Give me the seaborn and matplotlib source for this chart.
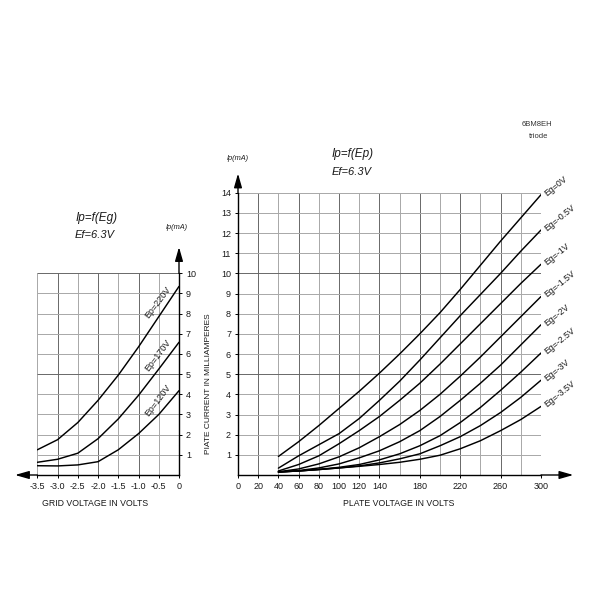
import matplotlib
matplotlib.use("Agg")
import matplotlib.pyplot as plt
import seaborn as sns
import pandas as pd

# ---------------- data: left chart  Ip = f(Eg) ----------------
eg_points = [-3.5, -3.0, -2.5, -2.0, -1.5, -1.0, -0.5, 0.0]
ip_ep220 = [1.25, 1.75, 2.6, 3.7, 4.95, 6.35, 7.85, 9.35]
ip_ep170 = [0.63, 0.78, 1.08, 1.8, 2.78, 3.95, 5.25, 6.58]
ip_ep120 = [0.46, 0.45, 0.5, 0.66, 1.25, 2.05, 3.0, 4.18]
ep_curve_labels = ["Ep=220V", "Ep=170V", "Ep=120V"]
left_xticks = [-3.5, -3.0, -2.5, -2.0, -1.5, -1.0, -0.5, 0.0]
left_xticklabels = ["-3.5", "-3.0", "-2.5", "-2.0", "-1.5", "-1.0", "-0.5", "0"]
left_yticks = [1, 2, 3, 4, 5, 6, 7, 8, 9, 10]

# ---------------- data: right chart  Ip = f(Ep) ----------------
ep_points = [40, 60, 80, 100, 120, 140, 160, 180, 200, 220, 240, 260, 280, 300]
ip_eg0 = [0.92, 1.65, 2.45, 3.3, 4.15, 5.05, 6.0, 7.0, 8.05, 9.2, 10.4, 11.6, 12.75, 13.9]
ip_eg05 = [0.34, 0.95, 1.5, 2.05, 2.8, 3.7, 4.65, 5.7, 6.8, 7.9, 8.95, 10.0, 11.1, 12.15]
ip_eg10 = [0.2, 0.52, 0.95, 1.55, 2.2, 2.9, 3.7, 4.55, 5.5, 6.5, 7.5, 8.5, 9.5, 10.45]
ip_eg15 = [0.16, 0.3, 0.55, 0.9, 1.35, 1.9, 2.5, 3.2, 4.0, 4.9, 5.85, 6.85, 7.85, 8.85]
ip_eg20 = [0.15, 0.22, 0.35, 0.55, 0.85, 1.2, 1.65, 2.2, 2.9, 3.7, 4.55, 5.45, 6.45, 7.45]
ip_eg25 = [0.15, 0.2, 0.28, 0.38, 0.52, 0.75, 1.05, 1.45, 1.95, 2.6, 3.35, 4.2, 5.1, 6.05]
ip_eg30 = [0.15, 0.2, 0.27, 0.35, 0.45, 0.6, 0.8, 1.05, 1.45, 1.9, 2.45, 3.1, 3.85, 4.7]
ip_eg35 = [0.15, 0.2, 0.27, 0.35, 0.43, 0.52, 0.63, 0.78, 0.98, 1.3, 1.7, 2.2, 2.75, 3.4]
eg_curve_labels = ["Eg=0V", "Eg=-0.5V", "Eg=-1V", "Eg=-1.5V",
                   "Eg=-2V", "Eg=-2.5V", "Eg=-3V", "Eg=-3.5V"]
right_xticks = [0, 20, 40, 60, 80, 100, 120, 140, 180, 220, 260, 300]
right_yticks = [1, 2, 3, 4, 5, 6, 7, 8, 9, 10, 11, 12, 13, 14]

# ---------------- tables ----------------
left_series = [ip_ep220, ip_ep170, ip_ep120]
df_left = pd.concat([pd.DataFrame({"Eg": eg_points, "Ip": s, "curve": lab})
                     for s, lab in zip(left_series, ep_curve_labels)], ignore_index=True)
right_series = [ip_eg0, ip_eg05, ip_eg10, ip_eg15, ip_eg20, ip_eg25, ip_eg30, ip_eg35]
df_right = pd.concat([pd.DataFrame({"Ep": ep_points, "Ip": s, "curve": lab})
                      for s, lab in zip(right_series, eg_curve_labels)], ignore_index=True)

sns.set_theme(style="white")
plt.rcParams["font.family"] = ["Liberation Sans", "DejaVu Sans"]

W = H = 600.0
fig = plt.figure(figsize=(6, 6), dpi=100)
fig.patch.set_facecolor("white")

def fx(px):
    return px / W

def fy(py):
    return 1 - py / H

LIGHT = "#a8a8a8"
DARK = "#686868"
TXT = "#1a1a1a"
ARROW = dict(arrowstyle="-|>,head_length=0.7,head_width=0.2", color="black", lw=1.0,
             shrinkA=0, shrinkB=0)

# ================= right chart =================
axr = fig.add_axes([fx(238), fy(475), (541 - 238) / W, (475 - 192.7) / H])
axr.set_xlim(0, 300)
axr.set_ylim(0, 14)
for v in range(20, 301, 20):
    axr.vlines(v, 0, 14, color=DARK if v % 40 == 20 else LIGHT, lw=0.7, zorder=1)
for h in range(1, 15):
    axr.hlines(h, 0, 300, color=DARK if h in (5, 10) else LIGHT, lw=0.7, zorder=1)
sns.lineplot(data=df_right, x="Ep", y="Ip", hue="curve",
             palette=["black"] * len(eg_curve_labels), estimator=None, sort=False,
             legend=False, lw=1.05, ax=axr, zorder=3)
for s, lab in zip(right_series, eg_curve_labels):
    axr.annotate(lab, xy=(ep_points[-1], s[-1]), xytext=(3.0, 0.5), textcoords="offset points",
                 rotation=39, rotation_mode="anchor", ha="left", va="center",
                 fontsize=6.3, color=TXT, annotation_clip=False)
axr.set_xticks(right_xticks)
axr.set_xticklabels([str(t) for t in right_xticks])
axr.set_yticks(right_yticks)
axr.set_yticklabels([str(t) for t in right_yticks])
axr.tick_params(axis="both", labelsize=6.5, length=2, width=0.7, colors="black",
                labelcolor=TXT, pad=3, direction="out")
axr.tick_params(axis="x", bottom=True)
axr.tick_params(axis="y", left=True)
axr.set_xlabel("")
axr.set_ylabel("")
for sp in ["top", "right"]:
    axr.spines[sp].set_visible(False)
for sp in ["left", "bottom"]:
    axr.spines[sp].set_color("black")
    axr.spines[sp].set_linewidth(1.0)
axr.patch.set_alpha(0)
axr.annotate("", xy=(332, 0), xytext=(300, 0), annotation_clip=False, arrowprops=ARROW)
axr.annotate("", xy=(0, 14.95), xytext=(0, 14), annotation_clip=False, arrowprops=ARROW)

# ================= left chart =================
axl = fig.add_axes([fx(37.3), fy(475), (179 - 37.3) / W, (475 - 273.3) / H])
axl.set_xlim(-3.5, 0)
axl.set_ylim(0, 10)
for i, v in enumerate(left_xticks[:-1]):
    axl.vlines(v, 0, 10, color=DARK if i % 2 == 1 else LIGHT, lw=0.7, zorder=1)
for h in range(1, 11):
    axl.hlines(h, -3.5, 0, color=DARK if h in (5, 10) else LIGHT, lw=0.7, zorder=1)
sns.lineplot(data=df_left, x="Eg", y="Ip", hue="curve",
             palette=["black"] * len(ep_curve_labels), estimator=None, sort=False,
             legend=False, lw=1.05, ax=axl, zorder=3)
for s, lab in zip(left_series, ep_curve_labels):
    axl.annotate(lab, xy=(eg_points[-2], s[-2]), xytext=(-0.5, 10.0), textcoords="offset points",
                 rotation=53, rotation_mode="anchor", ha="center", va="center",
                 fontsize=6.5, color=TXT, annotation_clip=False)
axl.set_xticks(left_xticks)
axl.set_xticklabels(left_xticklabels)
axl.set_yticks(left_yticks)
axl.set_yticklabels([str(t) for t in left_yticks])
axl.yaxis.tick_right()
axl.tick_params(axis="both", labelsize=6.5, length=2, width=0.7, colors="black",
                labelcolor=TXT, pad=3, direction="out")
axl.tick_params(axis="x", bottom=True)
axl.tick_params(axis="y", right=True, left=False)
axl.set_xlabel("")
axl.set_ylabel("")
for sp in ["top", "left"]:
    axl.spines[sp].set_visible(False)
for sp in ["right", "bottom"]:
    axl.spines[sp].set_color("black")
    axl.spines[sp].set_linewidth(1.0)
axl.patch.set_alpha(0)
axl.annotate("", xy=(-4.05, 0), xytext=(-3.5, 0), annotation_clip=False, arrowprops=ARROW)
axl.annotate("", xy=(0, 11.3), xytext=(0, 10), annotation_clip=False, arrowprops=ARROW)

# ================= texts =================
fig.text(fx(537), fy(125), "6BM8EH", fontsize=5.5, color="#333333", ha="center", va="center")
fig.text(fx(539), fy(136), "triode", fontsize=5.5, color="#333333", ha="center", va="center")

fig.text(fx(353), fy(154), "Ip=f(Ep)", fontsize=8.5, style="italic", color=TXT, ha="center", va="center")
fig.text(fx(352), fy(172), "Ef=6.3V", fontsize=8, style="italic", color=TXT, ha="center", va="center")
fig.text(fx(238), fy(158), "Ip(mA)", fontsize=5.3, style="italic", color=TXT, ha="center", va="center")

fig.text(fx(97), fy(218), "Ip=f(Eg)", fontsize=8.5, style="italic", color=TXT, ha="center", va="center")
fig.text(fx(95), fy(235), "Ef=6.3V", fontsize=8, style="italic", color=TXT, ha="center", va="center")
fig.text(fx(177), fy(227), "Ip(mA)", fontsize=5.3, style="italic", color=TXT, ha="center", va="center")

fig.text(fx(208), fy(384), "PIATE CURRENT IN MILLIAMPERES", fontsize=6, rotation=90,
         color=TXT, ha="center", va="center")
fig.text(fx(399), fy(504), "PLATE VOLTAGE IN VOLTS", fontsize=6.3, color=TXT, ha="center", va="center")
fig.text(fx(95), fy(504), "GRID VOLTAGE IN VOLTS", fontsize=6.3, color=TXT, ha="center", va="center")

fig.savefig("out.png", dpi=100, facecolor="white")
